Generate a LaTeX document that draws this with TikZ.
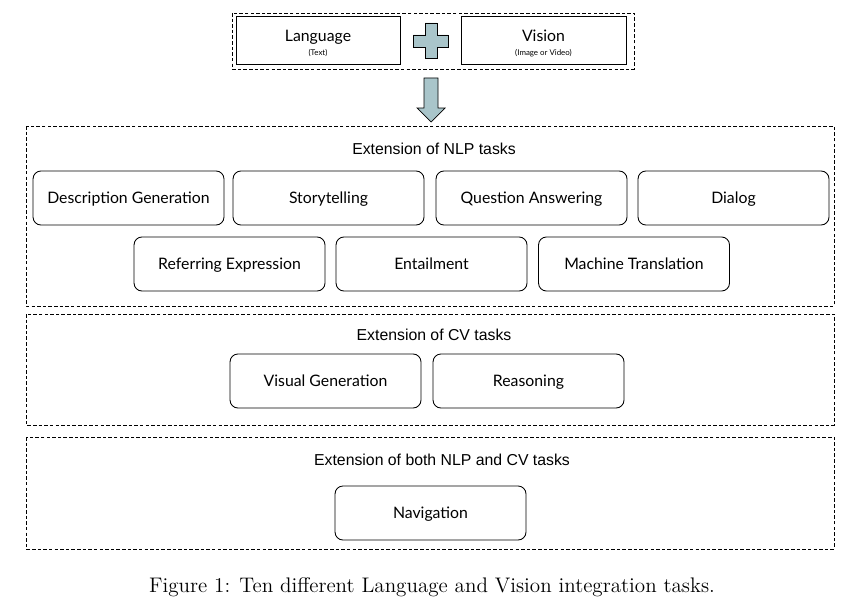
\documentclass[tikz,border=0pt]{standalone}
\usepackage{fontspec}
\usepackage{xcolor}
\usepackage{tikz}
\newfontfamily\titlefont{Liberation Sans}
\newfontfamily\taskfont{Lato}
\definecolor{plusblue}{HTML}{A9C5CA}
\tikzset{basic/.style={draw,fill=none,text badly centered,line width=0.5pt}}
\tikzset{task/.style={basic,rounded corners=4.5pt,minimum width=3.82cm,
                      minimum height=1.08cm,text height=2ex,text depth=0.45ex,
                      font=\taskfont\fontsize{9}{11}\selectfont}}

\begin{document}
\begin{tikzpicture}[x=0.02cm,y=-0.02cm,
      % styles for clarity
      group/.style  ={draw, dash pattern=on 2pt off 1.2pt, line width=0.5pt},
      modal/.style  ={basic, rectangle, minimum width=3.28cm, minimum height=0.96cm,
                      align=center, font=\taskfont\fontsize{9}{9}\selectfont},
      heading/.style={font=\titlefont\fontsize{9}{11}\selectfont}
    ]
    \useasboundingbox (0,0) rectangle (858,615);

    % inputs
    \draw[group] (232,13) rectangle (634,69);
    \draw[basic] (236,16) rectangle (400,64);
    \draw[basic] (461,16) rectangle (626,64);
    \node[align=center, font=\taskfont\fontsize{9}{9}\selectfont] (lang) at (318,43)
      {Language\\[-1pt]{\fontsize{4.5}{5}\selectfont (Text)}};
    \node[align=center, font=\taskfont\fontsize{9}{9}\selectfont] (vis) at (543.5,43)
      {Vision\\[-1pt]{\fontsize{4.5}{5}\selectfont (Image or Video)}};
    \draw[basic, fill=plusblue] (425,23) -- (437,23) -- (437,35) -- (448,35) -- (448,47)
      -- (437,47) -- (437,58) -- (425,58) -- (425,47) -- (413,47) -- (413,35)
      -- (425,35) -- cycle;
    \draw[basic, fill=plusblue, line width=0.4pt] (424,78) -- (438,78) -- (438,108) -- (445,108)
      -- (431,122) -- (417,108) -- (424,108) -- cycle;

    % extension of NLP tasks
    \draw[group] (26,126) rectangle (834,306);
    \node[heading] (nlp) at (434,149) {Extension of NLP tasks};
    \foreach \t/\x [count=\i from 1] in {Description Generation/128.5, Storytelling/328.5,
        Question Answering/531.5, Dialog/733.5}{
      \node[task] (n\i) at (\x,198) {\t};
    }
    \foreach \t/\x [count=\i from 5] in {Referring Expression/229.5, Entailment/431.5,
        Machine Translation/634}{
      \node[task] (n\i) at (\x,264) {\t};
    }

    % extension of CV tasks
    \draw[group] (26,314) rectangle (834,425);
    \node[heading] (cv) at (434,335) {Extension of CV tasks};
    \node[task] (c1) at (325.5,381) {Visual Generation};
    \node[task] (c2) at (528.5,381) {Reasoning};

    % extension of both
    \draw[group] (26,437) rectangle (834,549);
    \node[heading] (both) at (442,460) {Extension of both NLP and CV tasks};
    \node[task] (b1) at (430.5,513) {Navigation};

    \node[font=\fontsize{12}{14}\selectfont] (cap) at (432,587)
      {Figure 1: Ten different Language and Vision integration tasks.};
  \end{tikzpicture}
\end{document}
